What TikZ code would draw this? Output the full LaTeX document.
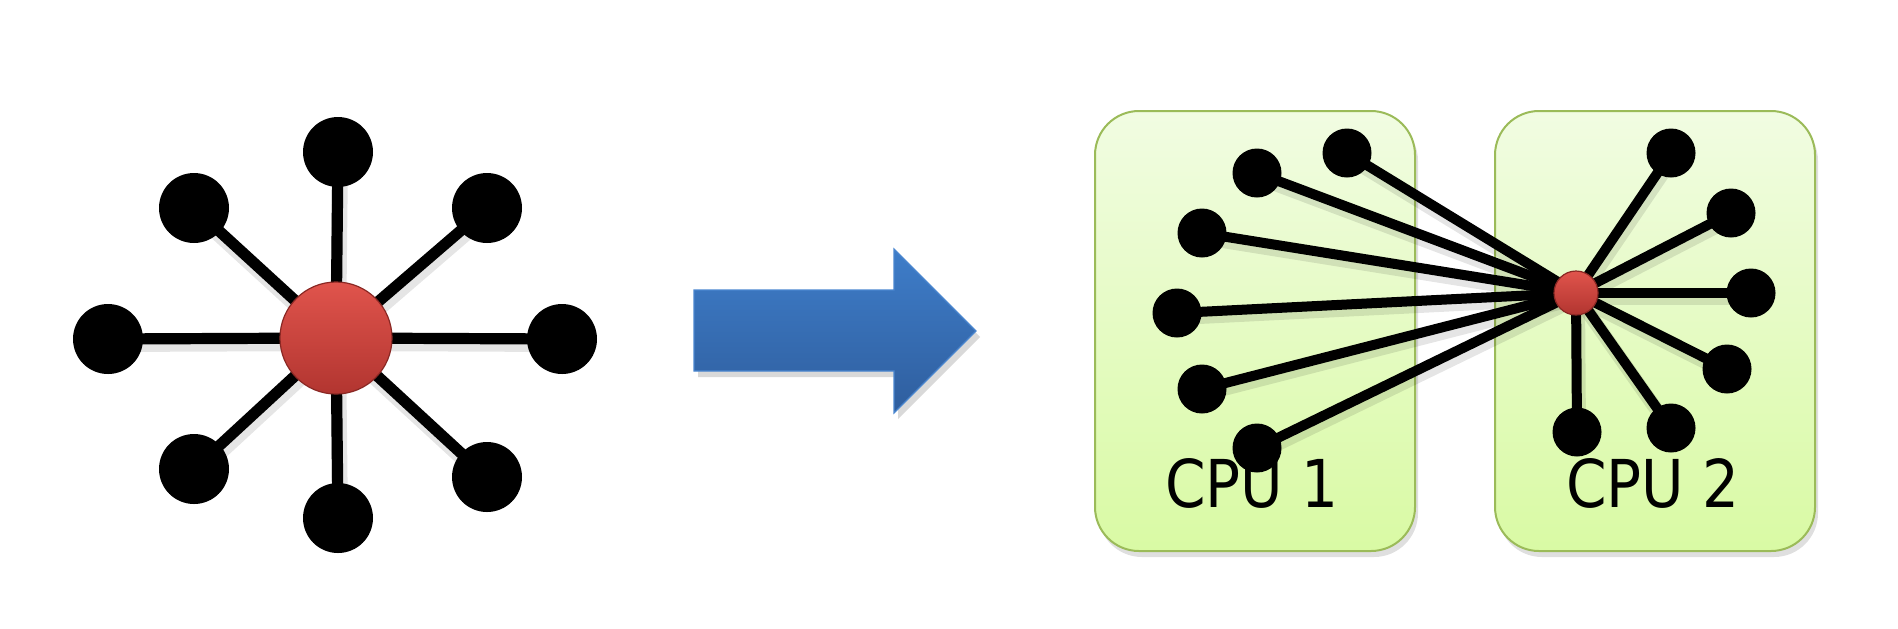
\documentclass[tikz,border=0pt]{standalone}
\usepackage{fontspec}
\setmainfont{DejaVu Sans}[FakeStretch=0.88]
\usetikzlibrary{shadows}
\pgfdeclarelayer{back}
\pgfdeclarelayer{links}
\pgfsetlayers{back,links,main}
\definecolor{hubtop}{HTML}{E0544C}
\definecolor{hubbot}{HTML}{B23530}
\definecolor{hubrim}{HTML}{8A2824}
\definecolor{boxtop}{HTML}{F1FCE2}
\definecolor{boxbot}{HTML}{D9FAA4}
\definecolor{boxline}{HTML}{9BBB59}
\definecolor{arrowtop}{HTML}{3E7DC9}
\definecolor{arrowbot}{HTML}{2F5E9E}
\definecolor{arrowline}{HTML}{4A86CF}
\tikzset{
	leaf/.style={circle, fill=black, inner sep=0pt, minimum size=35pt},
	small leaf/.style={circle, fill=black, inner sep=0pt, minimum size=24.5pt},
	hub/.style={circle, inner sep=0pt, top color=hubtop, bottom color=hubbot, draw=hubrim, line width=0.6pt},
	link/.style={line width=5.6pt, preaction={draw=black, opacity=0.1, line width=8pt, transform canvas={shift={(1pt,-2.5pt)}}}},
	small link/.style={line width=5pt, preaction={draw=black, opacity=0.1, line width=7pt, transform canvas={shift={(1pt,-2.5pt)}}}},
	cpubox/.style={rectangle, rounded corners=22pt, minimum width=160pt, minimum height=220pt, top color=boxtop, bottom color=boxbot, draw=boxline, line width=1pt, drop shadow={opacity=0.25, shadow xshift=1.5pt, shadow yshift=-3pt}},
	cpulabel/.style={anchor=base, inner sep=0pt, font=\fontsize{33}{36}\selectfont}
}
\begin{document}
\begin{tikzpicture}[x=0.5pt, y=-0.5pt]
	\useasboundingbox (0,0) rectangle (1898,628);
	
	% star
	\node [hub, minimum size=56pt] (hub) at (336,338) {};
	\node [leaf] (t) at (338,152) {};
	\node [leaf] (tl) at (194,208) {};
	\node [leaf] (tr) at (487,208) {};
	\node [leaf] (l) at (108,339) {};
	\node [leaf] (r) at (562,339) {};
	\node [leaf] (bl) at (194,469) {};
	\node [leaf] (b) at (338,518) {};
	\node [leaf] (br) at (487,477) {};
	\begin{pgfonlayer}{links}
		\draw [link] (hub.center) -- (t.center);
		\draw [link] (hub.center) -- (tl.center);
		\draw [link] (hub.center) -- (tr.center);
		\draw [link] (hub.center) -- (l.center);
		\draw [link] (hub.center) -- (r.center);
		\draw [link] (hub.center) -- (bl.center);
		\draw [link] (hub.center) -- (b.center);
		\draw [link] (hub.center) -- (br.center);
	\end{pgfonlayer}
	
	% arrow
	\begin{pgfonlayer}{back}
		\draw [top color=arrowtop, bottom color=arrowbot, draw=arrowline, line width=0.6pt, drop shadow={opacity=0.3, shadow xshift=2pt, shadow yshift=-3pt}]
		(694,290) -- (894,290) -- (894,249) -- (976,331) -- (894,413) -- (894,371) -- (694,371) -- cycle;
		\node [cpubox] (cpuA) at (1255,331) {};
		\node [cpubox] (cpuB) at (1655,331) {};
	\end{pgfonlayer}
	
	% split graph
	\node [hub, minimum size=22pt] (split) at (1576,293) {};
	\node [small leaf] (a1) at (1347,153) {};
	\node [small leaf] (a2) at (1257,173) {};
	\node [small leaf] (a3) at (1202,233) {};
	\node [small leaf] (a4) at (1177,313) {};
	\node [small leaf] (a5) at (1202,389) {};
	\node [small leaf] (a6) at (1257,448) {};
	\node [small leaf] (b1) at (1671,153) {};
	\node [small leaf] (b2) at (1731,213) {};
	\node [small leaf] (b3) at (1751,293) {};
	\node [small leaf] (b4) at (1727,369) {};
	\node [small leaf] (b5) at (1671,428) {};
	\node [small leaf] (b6) at (1577,432) {};
	\begin{pgfonlayer}{links}
		\draw [small link] (split.center) -- (a1.center);
		\draw [small link] (split.center) -- (a2.center);
		\draw [small link] (split.center) -- (a3.center);
		\draw [small link] (split.center) -- (a4.center);
		\draw [small link] (split.center) -- (a5.center);
		\draw [small link] (split.center) -- (a6.center);
		\draw [small link] (split.center) -- (b1.center);
		\draw [small link] (split.center) -- (b2.center);
		\draw [small link] (split.center) -- (b3.center);
		\draw [small link] (split.center) -- (b4.center);
		\draw [small link] (split.center) -- (b5.center);
		\draw [small link] (split.center) -- (b6.center);
	\end{pgfonlayer}
	\node [cpulabel] (labA) at (1252,507) {CPU 1};
	\node [cpulabel] (labB) at (1653,507) {CPU 2};
\end{tikzpicture}
\end{document}
